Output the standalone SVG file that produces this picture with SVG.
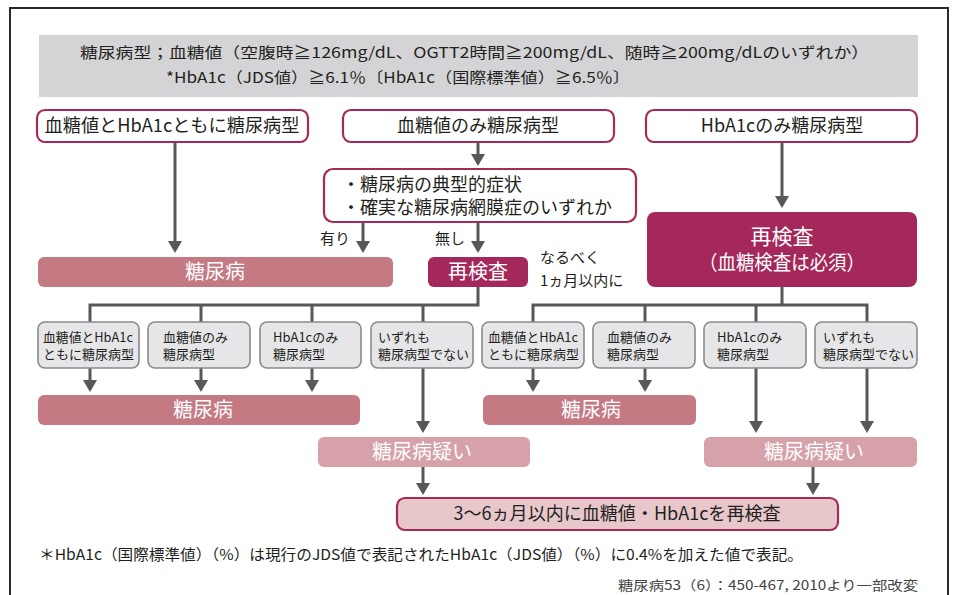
<svg xmlns="http://www.w3.org/2000/svg" width="955" height="595" viewBox="0 0 955 595">
<style>
text{font-family:"Noto Sans CJK JP","Noto Sans",sans-serif;fill:#231f20}
.w{fill:#fff}
.c{text-anchor:middle}
.outline{fill:#fff;stroke:#a62a58;stroke-width:2.2}
.gray{fill:#e6e6e8;stroke:#8a8a8c;stroke-width:1.6}
.dark{fill:#a5285a}
.mid{fill:#c47983}
.light{fill:#d6a1a8}
.con{fill:none;stroke:#58585a;stroke-width:3}
.arr{marker-end:url(#ah)}
</style>
<defs>
<marker id="ah" markerUnits="userSpaceOnUse" markerWidth="12" markerHeight="14" refX="9" refY="7" orient="auto">
<path d="M0,0 L12,7 L0,14 z" fill="#58585a"/>
</marker>
</defs>
<rect width="955" height="595" fill="#fff"/>
<path d="M10 595 V8 H948 V595" fill="none" stroke="#2a2a2a" stroke-width="2"/>

<g id="header">
<rect x="39" y="35" width="879" height="62" fill="#d4d4d6"/>
<text x="80" y="58" font-size="15" textLength="789" lengthAdjust="spacingAndGlyphs">糖尿病型；血糖値（空腹時≧126mg/dL、OGTT2時間≧200mg/dL、随時≧200mg/dLのいずれか）</text>
<text x="166" y="83" font-size="15" textLength="464" lengthAdjust="spacingAndGlyphs">*HbA1c（JDS値）≧6.1％〔HbA1c（国際標準値）≧6.5％〕</text>
</g>

<g id="connectors">
<path class="con arr" d="M175 142 V250"/>
<path class="con arr" d="M478 142 V163"/>
<path class="con arr" d="M782 142 V205"/>
<path class="con arr" d="M363 222 V250"/>
<path class="con arr" d="M478 222 V250"/>
<path class="con" d="M478 287 V305 H90 V322 M201 305 V322 M312 305 V322 M423 305 V322"/>
<path class="con" d="M782 287 V305 M533 322 V305 H867 V322 M645 305 V322 M756 305 V322"/>
<path class="con arr" d="M90 368 V389"/>
<path class="con arr" d="M201 368 V389"/>
<path class="con arr" d="M312 368 V389"/>
<path class="con arr" d="M423 368 V430"/>
<path class="con arr" d="M533 368 V389"/>
<path class="con arr" d="M645 368 V389"/>
<path class="con arr" d="M756 368 V430"/>
<path class="con arr" d="M867 368 V430"/>
<path class="con arr" d="M423 467 V492"/>
<path class="con arr" d="M813 467 V492"/>
</g>

<g id="top1">
<rect class="outline" x="37" y="110" width="271" height="32" rx="8"/>
<text class="c" x="172" y="132" font-size="18" textLength="255" lengthAdjust="spacingAndGlyphs">血糖値とHbA1cともに糖尿病型</text>
</g>
<g id="top2">
<rect class="outline" x="343" y="110" width="271" height="32" rx="8"/>
<text class="c" x="478" y="132" font-size="18">血糖値のみ糖尿病型</text>
</g>
<g id="top3">
<rect class="outline" x="646" y="110" width="271" height="32" rx="8"/>
<text class="c" x="782" y="132" font-size="18">HbA1cのみ糖尿病型</text>
</g>

<g id="symptom">
<rect class="outline" x="324" y="169" width="312" height="53" rx="9"/>
<text x="342" y="191" font-size="18">・糖尿病の典型的症状</text>
<text x="342" y="214" font-size="18">・確実な糖尿病網膜症のいずれか</text>
</g>

<g id="labels">
<text x="320" y="244" font-size="15">有り</text>
<text x="435" y="244" font-size="15">無し</text>
<text x="540" y="263" font-size="15">なるべく</text>
<text x="540" y="286" font-size="15">1ヵ月以内に</text>
</g>

<g id="dm1">
<rect class="mid" x="38" y="257" width="355" height="30" rx="6"/>
<text class="c w" x="215" y="279" font-size="20">糖尿病</text>
</g>
<g id="recheck1">
<rect class="dark" x="428" y="257" width="100" height="30" rx="6"/>
<text class="c w" x="478" y="279" font-size="20">再検査</text>
</g>
<g id="recheck2">
<rect class="dark" x="647" y="212" width="270" height="75" rx="8"/>
<text class="c w" x="782" y="244" font-size="21">再検査</text>
<text class="c w" x="782" y="270" font-size="20" textLength="166" lengthAdjust="spacingAndGlyphs">（血糖検査は必須）</text>
</g>

<g id="g1"><rect class="gray" x="38" y="322" width="101" height="46" rx="7"/>
<text x="43" y="342" font-size="13" textLength="90" lengthAdjust="spacingAndGlyphs">血糖値とHbA1c</text>
<text x="43" y="359" font-size="13">ともに糖尿病型</text></g>
<g id="g2"><rect class="gray" x="148" y="322" width="102" height="46" rx="7"/>
<text x="163" y="342" font-size="13">血糖値のみ</text>
<text x="163" y="359" font-size="13">糖尿病型</text></g>
<g id="g3"><rect class="gray" x="260" y="322" width="101" height="46" rx="7"/>
<text x="273" y="342" font-size="13">HbA1cのみ</text>
<text x="273" y="359" font-size="13">糖尿病型</text></g>
<g id="g4"><rect class="gray" x="371" y="322" width="102" height="46" rx="7"/>
<text x="378" y="342" font-size="13">いずれも</text>
<text x="378" y="359" font-size="13">糖尿病型でない</text></g>
<g id="g5"><rect class="gray" x="482" y="322" width="102" height="46" rx="7"/>
<text x="488" y="342" font-size="13" textLength="90" lengthAdjust="spacingAndGlyphs">血糖値とHbA1c</text>
<text x="488" y="359" font-size="13">ともに糖尿病型</text></g>
<g id="g6"><rect class="gray" x="593" y="322" width="102" height="46" rx="7"/>
<text x="607" y="342" font-size="13">血糖値のみ</text>
<text x="607" y="359" font-size="13">糖尿病型</text></g>
<g id="g7"><rect class="gray" x="704" y="322" width="102" height="46" rx="7"/>
<text x="717" y="342" font-size="13">HbA1cのみ</text>
<text x="717" y="359" font-size="13">糖尿病型</text></g>
<g id="g8"><rect class="gray" x="815" y="322" width="102" height="46" rx="7"/>
<text x="823" y="342" font-size="13">いずれも</text>
<text x="823" y="359" font-size="13">糖尿病型でない</text></g>

<g id="dm2">
<rect class="mid" x="38" y="395" width="322" height="30" rx="6"/>
<text class="c w" x="203" y="417" font-size="20">糖尿病</text>
</g>
<g id="dm3">
<rect class="mid" x="483" y="395" width="213" height="30" rx="6"/>
<text class="c w" x="591" y="417" font-size="20">糖尿病</text>
</g>
<g id="susp1">
<rect class="light" x="318" y="437" width="212" height="30" rx="6"/>
<text class="c w" x="422" y="459" font-size="20">糖尿病疑い</text>
</g>
<g id="susp2">
<rect class="light" x="704" y="437" width="213" height="30" rx="6"/>
<text class="c w" x="814" y="459" font-size="20">糖尿病疑い</text>
</g>

<g id="final">
<rect x="397" y="498" width="441" height="32" rx="8" fill="#e8c7cb" stroke="#a62a58" stroke-width="2.2"/>
<text class="c" x="617" y="520" font-size="18" textLength="327" lengthAdjust="spacingAndGlyphs">3〜6ヵ月以内に血糖値・HbA1cを再検査</text>
</g>

<g id="notes">
<text x="39" y="560" font-size="15" textLength="764" lengthAdjust="spacingAndGlyphs">＊HbA1c（国際標準値）（%）は現行のJDS値で表記されたHbA1c（JDS値）（%）に0.4%を加えた値で表記。</text>
<text x="618" y="590" font-size="13" style="fill:#444" textLength="300" lengthAdjust="spacingAndGlyphs">糖尿病53（6）：450-467, 2010より一部改変</text>
</g>
</svg>
